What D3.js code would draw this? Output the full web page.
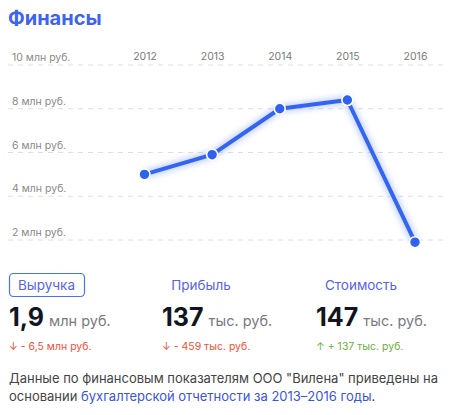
<!DOCTYPE html>
<html><head><meta charset="utf-8">
<script src="https://cdn.jsdelivr.net/npm/d3@7"></script>
<style>
html,body{margin:0;padding:0;background:#fff;}
svg{display:block;font-family:Inter, "Noto Sans", sans-serif;}
</style></head>
<body><svg id="c" width="453" height="415"></svg>
<script>
const years = ["2012","2013","2014","2015","2016"];
const revenue = [5.0, 5.9, 8.0, 8.4, 1.9];
const yTicks = [2,4,6,8,10];
const yTickLabels = ["2 млн руб.","4 млн руб.","6 млн руб.","8 млн руб.","10 млн руб."];
const cardTitles = ["Выручка","Прибыль","Стоимость"];
const cardValues = ["1,9","137","147"];
const cardUnits = ["млн руб.","тыс. руб.","тыс. руб."];
const cardDeltas = ["↓ - 6,5 млн руб.","↓ - 459 тыс. руб.","↑ + 137 тыс. руб."];
const cardDeltaUp = [false,false,true];

const svg = d3.select("#c");
svg.append("text").attr("x",8).attr("y",25).attr("font-size",20).attr("font-weight",700)
  .attr("fill","#3d63f2").text("Финансы");

const x = d3.scalePoint().domain(years).range([144.5,415]);
const y = d3.scaleLinear().domain([0,10]).range([283.75,65]);

const defs = svg.append("defs");
const f = defs.append("filter").attr("id","glow").attr("x","-20%").attr("y","-20%").attr("width","140%").attr("height","140%");
f.append("feGaussianBlur").attr("stdDeviation",3);

// grid
const g = svg.append("g");
g.selectAll("line.grid").data(yTicks).join("line")
  .attr("x1",8).attr("x2",443).attr("y1",d=>y(d)).attr("y2",d=>y(d))
  .attr("stroke","#dedede").attr("stroke-width",1).attr("stroke-dasharray","5,5");
g.selectAll("text.yl").data(yTicks).join("text")
  .attr("x",12).attr("y",d=>y(d)-4).attr("font-size",10.5).attr("fill","#8a8a8a")
  .text((d,i)=>yTickLabels[i]);
// x axis labels via axis
const xAxis = svg.append("g").attr("transform","translate(0,60)")
  .call(d3.axisTop(x).tickSize(0).tickPadding(0));
xAxis.select(".domain").remove();
xAxis.selectAll("text").attr("font-size",10.5).attr("fill","#7a7a7a").attr("font-family","Inter, sans-serif").attr("dy",0);

const line = d3.line().x((d,i)=>x(years[i])).y(d=>y(d));
svg.append("path").datum(revenue).attr("d",line).attr("fill","none")
  .attr("stroke","#8fa8ff").attr("stroke-width",7).attr("opacity",0.6).attr("filter","url(#glow)");
svg.append("path").datum(revenue).attr("d",line).attr("fill","none")
  .attr("stroke","#3366f0").attr("stroke-width",4).attr("stroke-linejoin","round");
svg.selectAll("circle.pt").data(revenue).join("circle")
  .attr("cx",(d,i)=>x(years[i])).attr("cy",d=>y(d)).attr("r",5.5)
  .attr("fill","#2f62ee").attr("stroke","#fff").attr("stroke-width",1.6);

// cards
const cardX = [9,162,316];
const titleX = [46.5,201,361];
svg.append("rect").attr("x",9.5).attr("y",273.5).attr("width",75).attr("height",23).attr("rx",4)
  .attr("fill","none").attr("stroke","#4a72ee").attr("stroke-width",1.2);
cardTitles.forEach((t,i)=>{
  svg.append("text").attr("x",titleX[i]).attr("y",290).attr("text-anchor","middle")
    .attr("font-size",13.5).attr("fill","#5863ea").text(t);
  const vt = svg.append("text").attr("x",cardX[i]).attr("y",326);
  vt.append("tspan").attr("font-size",25).attr("font-weight",700).attr("fill","#111522").text(cardValues[i]);
  vt.append("tspan").attr("dx",5).attr("font-size",14.5).attr("fill","#7a7a80").text(cardUnits[i]);
  svg.append("text").attr("x",cardX[i]).attr("y",350).attr("font-size",10.5)
    .attr("fill",cardDeltaUp[i]?"#6fae3a":"#f0503a").text(cardDeltas[i]);
});

// footer
const ft = svg.append("text").attr("font-size",13).attr("fill","#444");
ft.append("tspan").attr("x",9).attr("y",383).text('Данные по финансовым показателям ООО "Вилена" приведены на');
const l2 = svg.append("text").attr("font-size",13).attr("fill","#444").attr("x",9).attr("y",401);
l2.append("tspan").text("основании ");
l2.append("tspan").attr("fill","#3a55e0").text("бухгалтерской отчетности за 2013–2016 годы");
l2.append("tspan").text(".");
</script></body></html>
